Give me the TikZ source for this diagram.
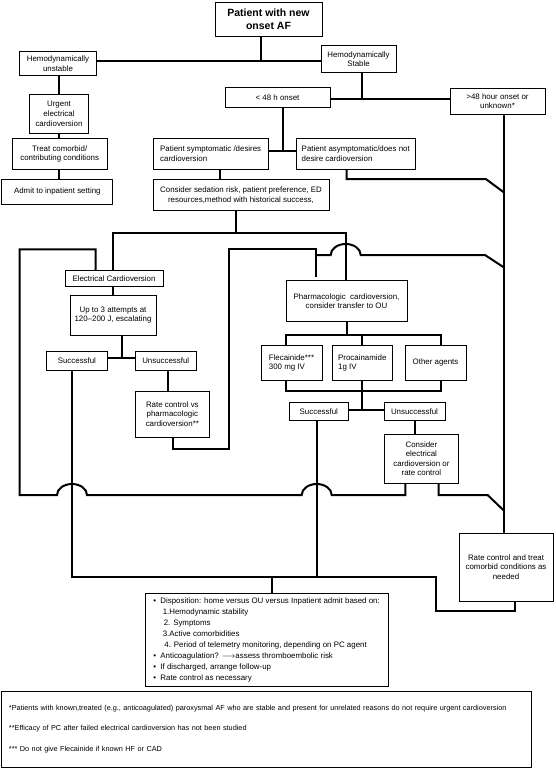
\documentclass[tikz,border=0pt]{standalone}
\usepackage{fontspec}
\setmainfont{Liberation Sans}
\begin{document}
\begin{tikzpicture}[x=1pt,y=-1pt,
  box/.style={draw, line width=0.9pt, inner sep=1pt, align=center, font=\fontsize{7.9}{9.6}\selectfont},
  conn/.style={line width=2pt},
  bump/.style={start angle=180,end angle=0,x radius=15pt,y radius=11pt}
]
\fill[white] (0,0) rectangle (555,770);
\useasboundingbox (0,0) rectangle (555,770);

% ---------- nodes ----------
\node[box, font=\bfseries\fontsize{10.5}{12.7}\selectfont, minimum width=107pt, minimum height=34pt] (title) at (268.5,19) {Patient with new\\onset AF};
\node[box, minimum width=77pt, minimum height=24.3pt] (unstable) at (58,63.8) {Hemodynamically\\unstable};
\node[box, minimum width=75pt, minimum height=27pt] (stable) at (358.5,59.2) {Hemodynamically\\Stable};
\node[box, minimum width=59.3pt, minimum height=39pt] (urgent) at (59,113.8) {Urgent\\electrical\\cardioversion};
\node[box, minimum width=94.6pt, minimum height=31pt] (treat) at (59.7,153.8) {Treat comorbid/\\contributing conditions};
\node[box, minimum width=111pt, minimum height=25pt] (admit) at (57.3,191.5) {Admit to inpatient setting};
\node[box, minimum width=105pt, minimum height=20pt] (lt48) at (277.5,97.7) {< 48 h onset};
\node[box, minimum width=95pt, minimum height=25.7pt] (gt48) at (497.5,101.2) {>48 hour onset or\\unknown*};
\node[box, align=left, minimum width=115.4pt, minimum height=31pt] (symp) at (210.7,153.8) {Patient symptomatic /desires\\cardioversion};
\node[box, align=left, minimum width=118.5pt, minimum height=31pt] (asymp) at (355.75,153.8) {Patient asymptomatic/does not\\desire cardioversion};
\node[box, minimum width=176pt, minimum height=31.7pt] (sedation) at (241,194.85) {Consider sedation risk, patient preference, ED\\resources,method with historical success,};
\node[box, minimum width=98pt, minimum height=16pt] (ec) at (114,278.7) {Electrical Cardioversion};
\node[box, minimum width=86pt, minimum height=40pt] (upto3) at (113,315) {Up to 3 attempts at\\120–200 J, escalating};
\node[box, minimum width=60.2pt, minimum height=19.7pt] (succL) at (76.9,360.85) {Successful};
\node[box, minimum width=60.5pt, minimum height=19.7pt] (unsL) at (165.75,360.85) {Unsuccessful};
\node[box, minimum width=73.7pt, minimum height=46.3pt] (ratevs) at (172.35,414.15) {Rate control vs\\pharmacologic\\cardioversion**};
\node[box, minimum width=121pt, minimum height=41pt] (pharm) at (346.5,301.2) {Pharmacologic\ \ cardioversion,\\consider transfer to OU};
\node[box, align=left, minimum width=61pt, minimum height=35.7pt] (flec) at (291.5,362.85) {Flecainide***\\300 mg IV};
\node[box, align=left, minimum width=60.6pt, minimum height=35.7pt] (proc) at (362.3,362.85) {Procainamide\\1g IV};
\node[box, minimum width=61pt, minimum height=35.7pt] (other) at (435.5,362.85) {Other agents};
\node[box, minimum width=59.6pt, minimum height=18.4pt] (succR) at (318.8,411.5) {Successful};
\node[box, minimum width=61pt, minimum height=18.4pt] (unsR) at (414.5,411.5) {Unsuccessful};
\node[box, minimum width=73.2pt, minimum height=49.3pt] (consider) at (421.4,458.65) {Consider\\electrical\\cardioversion or\\rate control};
\node[box, minimum width=94pt, minimum height=68pt] (ratectl) at (506,567) {Rate control and treat\\comorbid conditions as\\needed};
\node[box, align=left, font=\fontsize{7.9}{11}\selectfont, minimum width=243.3pt, minimum height=93.4pt] (disp) at (266.65,640) {%
\textbullet\hspace*{4.2pt}Disposition: home versus OU versus Inpatient admit based on:\\
\hspace*{9.3pt}1.Hemodynamic stability\\
\hspace*{10.3pt}2. Symptoms\\
\hspace*{9.3pt}3.Active comorbidities\\
\hspace*{11pt}4. Period of telemetry monitoring, depending on PC agent\\
\textbullet\hspace*{4.2pt}Anticoagulation? $\longrightarrow$assess thromboembolic risk\\
\textbullet\hspace*{4.2pt}If discharged, arrange follow-up\\
\textbullet\hspace*{4.2pt}Rate control as necessary};
\node[box, align=left, font=\fontsize{7.3}{20.8}\selectfont, text width=514.5pt, inner xsep=7.5pt, minimum height=76pt] (foot) at (266.25,729) {%
*Patients with known,treated (e.g., anticoagulated) paroxysmal AF who are stable and present for unrelated reasons do not require urgent cardioversion\\\relax
**Efficacy of PC after failed electrical cardioversion has not been studied\\\relax
*** Do not give Flecainide if known HF or CAD};

% ---------- connectors ----------
\coordinate (j1) at (261,61);
\draw[conn] (title.south -| j1) -- (j1);
\draw[conn] (unstable.east |- j1) -- (stable.west |- j1);
\coordinate (xL) at (58.5,0);
\draw[conn] (unstable.south -| xL) -- (urgent.north -| xL);
\draw[conn] (urgent.south -| xL) -- (treat.north -| xL);
\draw[conn] (treat.south -| xL) -- (admit.north -| xL);
\coordinate (j2) at (362.4,99.3);
\draw[conn] (stable.south -| j2) -- (j2);
\draw[conn] (lt48.east |- j2) -- (gt48.west |- j2);
\coordinate (j3) at (283,150.7);
\draw[conn] (lt48.south -| j3) -- (j3);
\draw[conn] (symp.east |- j3) -- (asymp.west |- j3);
\coordinate (xS) at (220.2,0);
\draw[conn] (symp.south -| xS) -- (sedation.north -| xS);
\coordinate (xR) at (504.3,0);
\draw[conn] (gt48.south -| xR) -- (ratectl.north -| xR);
\coordinate (a1) at (346.5,179);
\coordinate (a2) at (485.8,179);
\coordinate (a3) at (504.3,192.7);
\draw[conn] (asymp.south -| a1) -- (a1) -- (a2) -- (a3);

% main split
\coordinate (m1) at (235.8,233.3);
\coordinate (mL) at (112.8,233.3);
\coordinate (mR) at (345.7,233.3);
\draw[conn] (sedation.south -| m1) -- (m1);
\draw[conn] (ec.north -| mL) -- (mL) -- (mR) -- (pharm.north -| mR);

% electrical branch
\coordinate (e0) at (112.8,0);
\draw[conn] (ec.south -| e0) -- (upto3.north -| e0);
\coordinate (e1) at (122.3,358);
\draw[conn] (upto3.south -| e1) -- (e1);
\draw[conn] (succL.east |- e1) -- (unsL.west |- e1);
\coordinate (e2) at (167.7,0);
\draw[conn] (unsL.south -| e2) -- (ratevs.north -| e2);

% rate control vs -> pharmacologic loop
\coordinate (r0) at (172.7,449.3);
\coordinate (r1) at (228.7,449.3);
\coordinate (r2) at (228.7,249.3);
\coordinate (r3) at (315.7,249.3);
\coordinate (r4) at (315.7,277);
\draw[conn] (ratevs.south -| r0) -- (r0) -- (r1) -- (r2) -- (r3) -- (r4);
\coordinate (b0) at (315.7,255);
\coordinate (b1) at (485,255);
\coordinate (b2) at (504.3,267.7);
\draw[conn] (b0) -- (330.7,255) arc[bump] -- (b1) -- (b2);

% pharmacologic branch
\coordinate (p0) at (346.5,335);
\coordinate (pL) at (285.5,335);
\coordinate (pM) at (362.4,335);
\coordinate (pR) at (440.8,335);
\draw[conn] (pharm.south -| p0) -- (p0);
\draw[conn] (flec.north -| pL) -- (pL) -- (pR) -- (other.north -| pR);
\draw[conn] (pM) -- (proc.north -| pM);
\coordinate (q0) at (285.5,391);
\coordinate (q1) at (440.8,391);
\coordinate (qM) at (362.4,391);
\coordinate (qJ) at (362.4,410);
\draw[conn] (flec.south -| q0) -- (q0) -- (q1) -- (other.south -| q1);
\draw[conn] (proc.south -| qM) -- (qJ);
\draw[conn] (succR.east |- qJ) -- (unsR.west |- qJ);
\coordinate (u0) at (415,0);
\draw[conn] (unsR.south -| u0) -- (consider.north -| u0);
\coordinate (c0) at (438.7,495);
\coordinate (c1) at (487.6,495);
\coordinate (c2) at (504.3,511);
\draw[conn] (consider.south -| c0) -- (c0) -- (c1) -- (c2);

% consider -> electrical cardioversion loop
\coordinate (l0) at (95.7,249.3);
\coordinate (l1) at (19.5,249.3);
\coordinate (l2) at (19.5,495);
\coordinate (l5) at (405.3,495);
\draw[conn] (ec.north -| l0) -- (l0) -- (l1) -- (l2) -- (57,495) arc[bump] -- (301.7,495) arc[bump] -- (l5) -- (consider.south -| l5);

% to disposition
\coordinate (s0) at (72,576.7);
\coordinate (s1) at (436,576.7);
\coordinate (s2) at (436,611);
\coordinate (s3) at (515,611);
\draw[conn] (succL.south -| s0) -- (s0) -- (s1) -- (s2) -- (s3) -- (ratectl.south -| s3);
\coordinate (s4) at (316.7,576.7);
\draw[conn] (succR.south -| s4) -- (s4);
\coordinate (s5) at (272,576.7);
\draw[conn] (s5) -- (disp.north -| s5);
\end{tikzpicture}
\end{document}
